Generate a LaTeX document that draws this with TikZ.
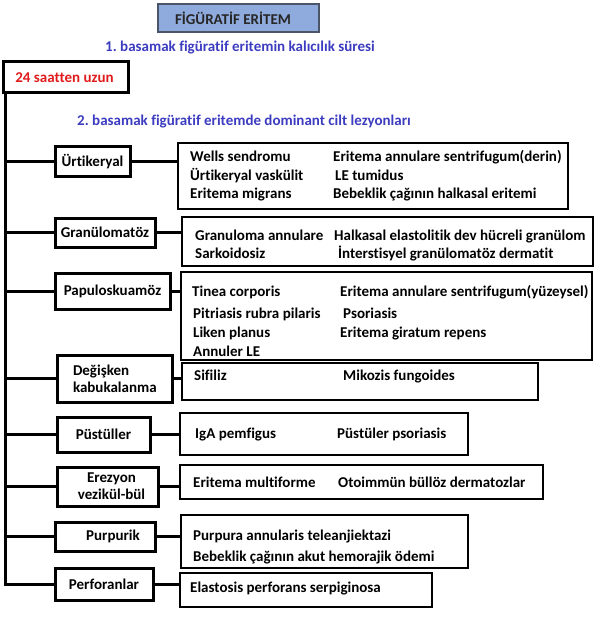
\documentclass[tikz,border=0pt]{standalone}
\usepackage{fontspec}
\setmainfont{Carlito}[Ligatures=NoCommon]
\definecolor{titlefill}{HTML}{8FAADC}
\definecolor{titledraw}{HTML}{4A5568}
\definecolor{stepblue}{HTML}{3C3CC0}
\definecolor{hotred}{HTML}{E01B1B}
\frenchspacing
\begin{document}
\begin{tikzpicture}[x=1pt,y=-1pt,
  fnt/.style={font=\bfseries\fontsize{15}{18}\selectfont},
  catbox/.style={draw, line width=3pt, inner sep=0pt, fnt},
  detbox/.style={draw, line width=2pt, inner sep=0pt},
  txt/.style={anchor=base west, inner sep=0pt, fnt},
  conn/.style={line width=3pt}]
\useasboundingbox (0,0) rectangle (600,636);

% title
\node[draw=titledraw, fill=titlefill, line width=1.2pt, minimum width=161pt, minimum height=28pt, inner sep=0pt] (title) at (238.5,18) {};
\node[fnt, text=black!85, inner sep=0pt] (titletext) at (233,18) {FİGÜRATİF ERİTEM};

\node[fnt, text=stepblue, inner sep=0pt] (step1) at (240,48) {1. basamak figüratif eritemin kalıcılık süresi};
\node[fnt, text=stepblue, inner sep=0pt] (step2) at (244,122) {2. basamak figüratif eritemde dominant cilt lezyonları};

% 24 saat
\node[draw, line width=3pt, minimum width=125pt, minimum height=31pt, inner sep=0pt] (red) at (65.5,77.5) {};
\node[fnt, text=hotred, inner sep=0pt] (redtext) at (64.5,78) {24 saatten uzun};
\coordinate (top) at (5,93);

% categories
\node[catbox, minimum width=75pt, minimum height=30pt] (urt) at (92.5,162) {Ürtikeryal};
\node[catbox, minimum width=100pt, minimum height=29pt] (gra) at (105,232.5) {Granülomatöz};
\node[catbox, minimum width=115pt, minimum height=36pt] (pap) at (112.5,291) {Papuloskuamöz};
\node[catbox, minimum width=115pt, minimum height=47pt, align=left, text width=99pt] (deg) at (114.5,378.5) {\hspace*{8pt}Değişken\\[-1pt]\hspace*{8pt}kabukalanma};
\node[catbox, minimum width=93pt, minimum height=35pt] (pus) at (103.5,434.5) {Püstüller};
\node[catbox, minimum width=101pt, minimum height=39pt, align=center, text width=101pt] (ere) at (107.5,486.5) {\hspace*{8pt}Erezyon\\[-1pt]\hspace*{8pt}vezikül-bül};
\node[catbox, minimum width=100pt, minimum height=29pt] (pur) at (105,536.5) {\hspace*{16pt}Purpurik};
\node[catbox, minimum width=98pt, minimum height=32pt] (per) at (104,584) {Perforanlar};

% detail boxes
\node[detbox, minimum width=390pt, minimum height=66pt] (d1) at (373,176) {};
\node[detbox, minimum width=411pt, minimum height=49pt] (d2) at (387.5,241.5) {};
\node[detbox, minimum width=411pt, minimum height=88pt] (d3) at (386.5,316) {};
\node[detbox, minimum width=356pt, minimum height=37pt] (d4) at (360,381.5) {};
\node[detbox, minimum width=288pt, minimum height=42pt] (d5) at (324,434) {};
\node[detbox, minimum width=363pt, minimum height=34pt] (d6) at (361.5,482) {};
\node[detbox, minimum width=287pt, minimum height=53pt] (d7) at (324.5,541.5) {};
\node[detbox, minimum width=252pt, minimum height=34pt] (d8) at (306,590) {};

% spine and branches
\draw[conn] (top) |- (per.west);
\foreach \c in {urt,gra,pap,deg,pus,ere,pur}
  \draw[conn] (\c.west) -- (\c.west -| top);
\draw[conn] (urt.east) -- (urt.east -| d1.west);
\draw[conn] (gra.east) -- (gra.east -| d2.west);
\draw[conn] (pap.east) -- (pap.east -| d3.west);
\draw[conn] (deg.east) -- (deg.east -| d4.west);
\draw[conn] (pus.east) -- (pus.east -| d5.west);
\draw[conn] (ere.east) -- (ere.east -| d6.west);
\draw[conn] (pur.east) -- (pur.east -| d7.west);
\draw[conn] (per.east) -- (per.east -| d8.west);

% texts
\node[txt] (t11) at (190,162) {Wells sendromu};
\node[txt] (t12) at (190,181) {Ürtikeryal vaskülit};
\node[txt] (t13) at (190,199) {Eritema migrans};
\node[txt] (t14) at (333,162) {Eritema annulare sentrifugum(derin)};
\node[txt] (t15) at (335,181) {LE tumidus};
\node[txt] (t16) at (333,199) {Bebeklik çağının halkasal eritemi};

\node[txt] (t21) at (195,240) {Granuloma annulare};
\node[txt] (t22) at (195,258) {Sarkoidosiz};
\node[txt] (t23) at (334,240) {Halkasal elastolitik dev hücreli granülom};
\node[txt] (t24) at (338,258) {İnterstisyel granülomatöz dermatit};

\node[txt] (t31) at (192,296) {Tinea corporis};
\node[txt] (t32) at (193,318) {Pitriasis rubra pilaris};
\node[txt] (t33) at (193,337) {Liken planus};
\node[txt] (t34) at (193,356) {Annuler LE};
\node[txt] (t35) at (340,296) {Eritema annulare sentrifugum(yüzeysel)};
\node[txt] (t36) at (343,318) {Psoriasis};
\node[txt] (t37) at (340,337) {Eritema giratum repens};

\node[txt] (t41) at (194,380) {Sifiliz};
\node[txt] (t42) at (343,380) {Mikozis fungoides};

\node[txt] (t51) at (195,438) {IgA pemfigus};
\node[txt] (t52) at (337,438) {Püstüler psoriasis};

\node[txt] (t61) at (193,487) {Eritema multiforme};
\node[txt] (t62) at (338,487) {Otoimmün büllöz dermatozlar};

\node[txt] (t71) at (193,540) {Purpura annularis teleanjiektazi};
\node[txt] (t72) at (193,561) {Bebeklik çağının akut hemorajik ödemi};

\node[txt] (t81) at (190,592) {Elastosis perforans serpiginosa};
\end{tikzpicture}
\end{document}
